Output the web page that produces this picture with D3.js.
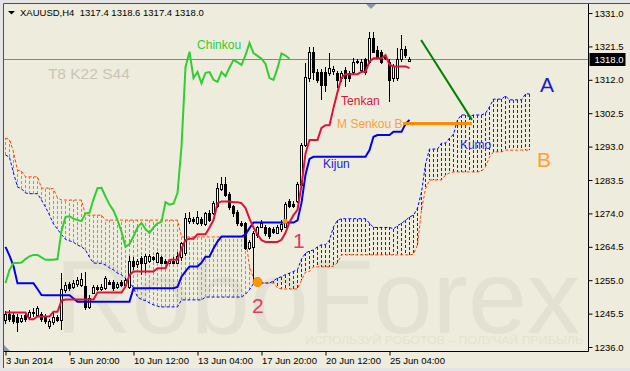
<!DOCTYPE html>
<html>
<head>
<meta charset="utf-8">
<script src="https://cdn.jsdelivr.net/npm/d3@7"></script>
<style>
  body { margin: 0; background: #eeecdc; }
  svg { display: block; font-family: 'Liberation Sans', Arial, sans-serif; }
</style>
</head>
<body>
<div id="chart"></div>
<script>
// ---- data ----
var tickBars = [0, 16, 32, 48, 64, 80, 96];
var tickLabels = ['3 Jun 2014', '5 Jun 20:00', '10 Jun 12:00', '13 Jun 04:00', '17 Jun 20:00', '20 Jun 12:00', '25 Jun 04:00'];
var priceTicks = [1236.0, 1245.5, 1255.0, 1264.5, 1274.0, 1283.5, 1293.0, 1302.5, 1312.0, 1321.5, 1331.0];
var lastPrice = 1318.0;

var open = [
  1243.8,1245.5,1245,1244.5,1243.5,1245,1244.5,1246,1245,1245.5,
  1244.5,1242,1243,1244.5,1243.6,1252.2,1253.8,1253,1253.8,1253.5,
  1253.3,1247.5,1251.5,1253,1252.5,1252.8,1254.5,1254.4,1253,1254.5,
  1253.5,1253,1260.5,1259.6,1261.2,1260,1260.4,1261.5,1260.3,1261.5,
  1260.5,1260,1260.5,1260,1261.5,1262.7,1271.8,1272.5,1271.2,1272.5,
  1271,1274,1274,1276,1281,1282.3,1279.6,1276,1274.5,1271.3,
  1271.2,1264.1,1264.5,1267.8,1270.2,1270.2,1269.8,1269.5,1268.5,1269.5,
  1270.2,1277.5,1276.8,1277.5,1282,1293.5,1312.4,1320,1314.3,1314.3,
  1314.3,1313.8,1314.5,1313.8,1312.4,1314.8,1313.8,1314.3,1317,1314.8,
  1317.8,1317.2,1323.8,1320.5,1320,1318.5,1317.2,1312.4,1312.4,1317.8,
  1320.9,1317.4];
var high = [
  1246.2,1246.5,1246,1245.5,1245,1245.8,1246.5,1247,1247.8,1246,
  1245.3,1244,1245.6,1245,1257,1254.5,1254.5,1255,1256,1257,
  1257.2,1250.8,1253.5,1253.6,1253.8,1256.3,1255,1255,1254.6,1255,
  1255.5,1262,1261.5,1261,1262,1262.5,1262.5,1262,1263,1262,
  1261,1261,1261.5,1263,1266,1274,1274.5,1273,1274.8,1273,
  1274.5,1275,1277.5,1282.6,1284.4,1284.4,1280,1276.5,1275,1271.8,
  1271.5,1266.5,1269,1270.5,1272,1270.8,1270.2,1270,1270.8,1272,
  1277.2,1278,1277.5,1283,1294,1316.7,1321.4,1321.4,1315,1315,
  1315.5,1319.5,1315.8,1314.5,1314.5,1315.5,1314.5,1318.1,1318,1317.8,
  1318.3,1325.7,1325.7,1321.5,1320.5,1319,1318,1316.5,1321,1324.7,
  1321.5,1318.6];
var low = [
  1242.5,1243,1242.5,1240.3,1242.8,1243,1244,1244.5,1244.5,1243.2,
  1242.5,1241,1242.3,1243,1240.8,1251.5,1252,1252.5,1253.2,1253,
  1246.5,1246.8,1251,1251.8,1252,1252.3,1253.5,1251.8,1252.4,1253,
  1252.8,1252.5,1258,1258.5,1256.5,1257,1259.8,1260.5,1259.8,1259.5,
  1259.5,1259.5,1259.6,1259.5,1260.5,1262,1271,1271,1270.8,1270.5,
  1270.5,1271.5,1273.5,1275.5,1280.5,1278.8,1275,1273,1270.5,1270,
  1263.5,1263.5,1254.6,1267,1269.8,1267.5,1266.8,1268.2,1268,1268.8,
  1269.8,1275.5,1275.5,1277,1281.5,1292.8,1311.5,1311.9,1311,1306.3,
  1308.6,1313,1313.5,1309.6,1311.5,1310,1311.5,1313.5,1316.5,1314,
  1313.5,1316.5,1319.5,1317.8,1316.5,1317.5,1305.8,1311.5,1311.8,1317,
  1318.3,1317.4];
var close = [
  1245.5,1244,1243.5,1243.2,1244.2,1244,1246,1245.6,1247,1244,
  1243.5,1243.5,1244.5,1243.8,1252.5,1253.6,1252.8,1254.3,1255,1255.2,
  1247.5,1250,1253,1252.5,1253,1255.6,1254,1252.8,1254,1253.6,
  1255,1260.5,1259,1260.5,1259.8,1261.8,1262,1261,1262.6,1260,
  1260,1260.5,1260,1262,1265.5,1272.6,1272.6,1271.8,1273,1271.3,
  1274,1272,1276.9,1281.1,1282.3,1279.2,1275.9,1274,1271.2,1270.8,
  1264.1,1265.9,1268.3,1270,1271.2,1268.3,1267.5,1268.8,1270.2,1271,
  1276.6,1276.2,1276,1282.3,1293.5,1312.9,1320,1314.3,1311.9,1310.5,
  1310.5,1315.3,1315,1311.9,1313.8,1312.4,1312.4,1317.2,1317.4,1317.2,
  1314.3,1323.8,1320,1318.5,1317.2,1318.1,1311.9,1315.8,1317.8,1320.9,
  1319,1318.0];

var tenkan = [
  1245.8,1245.8,1245.8,1245.8,1245.8,1245.8,1243.9,1243.9,1244.7,1244.7,
  1244.7,1244.7,1246,1246,1249.2,1249.5,1249.5,1249.5,1249.5,1249.5,
  1249.5,1249.5,1249.5,1251.5,1251.5,1251.5,1251.5,1251.5,1251.5,1251.5,
  1253.2,1256.5,1257.5,1257.5,1257.5,1257.5,1257.5,1257.5,1258.4,1258.4,
  1258.4,1260.8,1260.8,1260.8,1264,1266.4,1266.8,1266.8,1268.1,1268.1,
  1268.1,1270,1272.1,1276.9,1277.4,1277.4,1277.4,1277.2,1277.2,1276.9,
  1275.5,1272.5,1270,1268,1266.4,1265.9,1265.9,1265.9,1265.9,1266.5,
  1268.5,1271.5,1273.5,1275,1282,1291,1294.9,1294.9,1294.9,1298.3,
  1299.1,1299.1,1304,1308.5,1312.5,1313.6,1313.6,1313.6,1313.6,1314.3,
  1314.3,1317.2,1318.1,1318.1,1318.1,1319,1316.3,1315.8,1315.8,1315.8,
  1315.8,1315.3];
var kijun = [
  1264.5,1262,1259,1254.1,1254.1,1254.1,1254.1,1254.1,1252.5,1250.8,
  1250.7,1250.7,1250.7,1250.7,1250.7,1250.7,1250.7,1249.8,1248.9,1248.9,
  1248.9,1248.9,1248.9,1248.9,1248.9,1248.9,1248.9,1248.9,1248.9,1248.9,
  1248.9,1248.9,1252.7,1252.7,1252.7,1252.7,1252.7,1252.7,1252.7,1252.7,
  1252.7,1252.7,1252.7,1253.1,1256,1257.5,1258.9,1258.9,1258.9,1260,
  1261.7,1261.7,1264,1266,1267.4,1267.4,1267.4,1267.4,1267.4,1267.4,
  1268,1269.8,1271.4,1271.4,1271.4,1271.4,1271.4,1271.4,1271.4,1271.4,
  1271.4,1271.4,1271.4,1272,1277,1285,1289.5,1290.1,1290.1,1290.1,
  1290.1,1290.1,1290.1,1290.1,1290.1,1290.1,1290.1,1290.1,1290.1,1290.1,
  1290.1,1292,1295.8,1296.3,1296.3,1296.3,1296.3,1297.2,1297.2,1297.2,
  1299.5,1300.6];
var chinkou = [
  1254.2,1257.9,1259.9,1259.9,1260,1261,1261.8,1262.2,1262.2,1261.5,
  1260.8,1260.8,1260.8,1261,1269,1273,1273.2,1272.5,1272.1,1271.8,
  1274,1274.2,1278,1281.2,1281.3,1278.8,1276.5,1274.8,1272.1,1268.8,
  1264.5,1265.3,1267.5,1270,1271.3,1269.5,1268.4,1270,1271.2,1271.6,
  1277.2,1276.5,1276.8,1279.8,1293,1315.6,1320,1312.5,1314.2,1311,
  1314,1314.2,1312,1311.4,1314.2,1313,1315.5,1317.6,1317,1316.2,
  1319,1322.5,1319.6,1318.8,1318,1316.5,1312.5,1312,1315.3,1319.5,
  1318.9,1318];
var senkouA = [
  1290.6,1290,1285.5,1281.5,1281,1279.8,1279.6,1279.6,1279.6,1277.8,
  1275.8,1273.5,1271,1269.5,1268,1266.6,1266.2,1265.8,1265,1264.5,
  1263.6,1261.5,1259.9,1259.8,1259.8,1259.3,1258.5,1257.9,1257,1256.5,
  1255.5,1254.5,1252.8,1250.2,1249.5,1249.2,1248.5,1248,1247.6,1247.4,
  1247.4,1247.4,1247.4,1247.4,1249.4,1249.4,1249.4,1249.4,1249.4,1249.4,
  1250.2,1250.2,1250.2,1250.2,1250.2,1250.2,1250.2,1250.2,1250.2,1250.2,
  1251,1252.3,1254,1254.4,1254.2,1254.2,1254.2,1254.8,1255.6,1256,
  1256.6,1257,1257.5,1258,1261,1262.7,1263.3,1263.6,1264.5,1265.1,
  1265.1,1266.4,1270.2,1272,1272.5,1272.5,1272.5,1272.5,1272.5,1272.5,
  1272.5,1271.2,1270,1270,1270,1270,1270,1269.6,1270.5,1271.2,
  1272,1273,1273.5,1275.5,1280,1288,1292.3,1292.3,1292.3,1294,
  1294,1295.4,1296.5,1300.6,1302,1302,1301.5,1302,1302,1302,
  1302.5,1304.3,1306.5,1306.5,1306.5,1307.4,1306.3,1306.3,1306.3,1306.3,
  1308,1308];
var senkouB = [
  1295.4,1295,1291.5,1286.3,1286,1284.4,1284.4,1284.4,1284.4,1281.2,
  1281.2,1281.2,1281,1278.4,1277.8,1277.8,1277.8,1277.8,1277.8,1277.8,
  1273.5,1273.5,1273.5,1273.5,1273.5,1272.1,1272.1,1272.1,1272.1,1272.1,
  1272.1,1272.1,1272.1,1272.1,1272.1,1272.1,1272.1,1272.1,1272.1,1272.1,
  1272.1,1272.1,1272.1,1272.1,1267.3,1267.3,1267.3,1267.3,1267.3,1267.3,
  1267.3,1267.3,1267.3,1267.3,1267.3,1267.3,1267.3,1267.3,1267.3,1267.3,
  1267,1259,1255.5,1254.4,1254.2,1254.2,1254.2,1254.2,1252.8,1252.5,
  1252.5,1252.5,1252.5,1252.5,1255,1257.3,1257.5,1258.8,1258.8,1258.8,
  1258.8,1258.8,1259,1260,1262.2,1262.2,1262.2,1262.2,1262.2,1262.2,
  1262.2,1262.2,1262.2,1262.2,1262.2,1262.2,1262.2,1262.2,1262.2,1262.2,
  1262.2,1262.2,1262.4,1265,1275,1281,1283.5,1283.5,1283.5,1283.5,
  1284.9,1285.5,1285.8,1285.8,1285.8,1285.8,1285.8,1285.8,1285.8,1286,
  1287.2,1290,1291.5,1291.5,1291.5,1292,1292,1292,1292,1292,
  1292,1292];

// text notes placed in chart coordinates: [bar, price, text, colour, size]
var notes = [
  [10.6, 1312.2, 'T8 K22 S44', '#cbc4b6', 15.5],
  [47.9, 1320.8, 'Chinkou', '#33cc33', 12],
  [83.9, 1304.8, 'Tenkan', '#dc143c', 12],
  [82.9, 1298.3, 'M Senkou B', '#ff9f3a', 12],
  [79.4, 1286.9, 'Kijun', '#2222dd', 12],
  [113.6, 1292.3, 'Kumo', '#3333dd', 12],
  [133.6, 1308.5, 'A', '#1a1acc', 21],
  [132.9, 1287.2, 'B', '#ffa030', 21],
  [71.9, 1264.2, '1', '#e03a64', 21],
  [61.6, 1245.7, '2', '#e03a64', 21]
];

// ---- layout ----
var W = 630, H = 371;
var bg = '#eeecdc';
var plot = { left: 4, top: 4, right: 588.5, bottom: 351.5 };

var x = d3.scaleLinear().domain([0, 145]).range([5.5, 5.5 + 4 * 145]);
var y = d3.scaleLinear().domain([1236, 1331]).range([347, 13]);

var svg = d3.select('#chart').append('svg')
  .attr('width', W).attr('height', H);

svg.append('rect').attr('width', W).attr('height', H).attr('fill', '#e4e4e4');
svg.append('rect').attr('x', 4).attr('y', 4).attr('width', W - 4).attr('height', 364).attr('fill', bg);
svg.append('line').attr('x1', 3.5).attr('y1', 3.5).attr('x2', W).attr('y2', 3.5).attr('stroke', '#505050');
svg.append('line').attr('x1', 3.5).attr('y1', 3.5).attr('x2', 3.5).attr('y2', 368).attr('stroke', '#505050');

// watermark
svg.append('text')
  .attr('x', 55).attr('y', 333)
  .attr('textLength', 525).attr('lengthAdjust', 'spacingAndGlyphs')
  .style('font-size', '104px').attr('fill', '#e3e1d1')
  .text('RoboForex');
svg.append('text')
  .attr('x', 305).attr('y', 344)
  .attr('textLength', 278).attr('lengthAdjust', 'spacingAndGlyphs')
  .style('font-size', '10px').attr('fill', '#e4e2d2')
  .text('ИСПОЛЬЗУЙ РОБОТОВ – ПОЛУЧАЙ ПРИБЫЛЬ');

svg.append('clipPath').attr('id', 'clip')
  .append('rect').attr('x', plot.left).attr('y', plot.top)
  .attr('width', plot.right - plot.left).attr('height', plot.bottom - plot.top);

var g = svg.append('g').attr('clip-path', 'url(#clip)');

// bid line
g.append('line')
  .attr('x1', plot.left).attr('x2', plot.right)
  .attr('y1', Math.round(y(lastPrice)) + 0.5).attr('y2', Math.round(y(lastPrice)) + 0.5)
  .attr('stroke', '#778899');

// kumo hatching, one dotted stroke per bar
g.selectAll('.hatch')
  .data(senkouA)
  .enter().append('line')
  .attr('class', 'hatch')
  .attr('x1', function(d, i) { return x(i); })
  .attr('x2', function(d, i) { return x(i); })
  .attr('y1', function(d) { return y(d); })
  .attr('y2', function(d, i) { return y(senkouB[i]); })
  .attr('stroke', function(d, i) { return d >= senkouB[i] ? '#1a1aee' : '#f47650'; })
  .attr('stroke-dasharray', '3,2')
  .attr('shape-rendering', 'crispEdges');

var line = d3.line()
  .x(function(d, i) { return x(i); })
  .y(function(d) { return y(d); });

g.append('path').datum(senkouB)
  .attr('d', line).attr('fill', 'none')
  .attr('stroke', '#ff4500').attr('stroke-dasharray', '3,2');
g.append('path').datum(senkouA)
  .attr('d', line).attr('fill', 'none')
  .attr('stroke', '#0000ff').attr('stroke-dasharray', '3,2');

// candles
var candles = g.selectAll('.candle')
  .data(close)
  .enter().append('g')
  .attr('class', 'candle');

candles.append('line')
  .attr('x1', function(d, i) { return x(i); })
  .attr('x2', function(d, i) { return x(i); })
  .attr('y1', function(d, i) { return Math.round(y(high[i])); })
  .attr('y2', function(d, i) { return Math.round(y(low[i])); })
  .attr('stroke', '#000')
  .attr('shape-rendering', 'crispEdges');

candles.append('rect')
  .attr('x', function(d, i) { return x(i) - 1; })
  .attr('width', 2)
  .attr('y', function(d, i) { return Math.round(y(Math.max(open[i], d))) + 0.5; })
  .attr('height', function(d, i) {
    return Math.max(0, Math.round(y(Math.min(open[i], d))) - Math.round(y(Math.max(open[i], d))));
  })
  .attr('fill', function(d, i) { return d >= open[i] ? '#fff' : '#000'; })
  .attr('stroke', '#000');

// ichimoku lines
g.append('path').datum(kijun)
  .attr('d', line).attr('fill', 'none')
  .attr('stroke', '#0000ee').attr('stroke-width', 2);
g.append('path').datum(tenkan)
  .attr('d', line).attr('fill', 'none')
  .attr('stroke', '#dc143c').attr('stroke-width', 2);
g.append('path').datum(chinkou)
  .attr('d', line).attr('fill', 'none')
  .attr('stroke', '#32cd32').attr('stroke-width', 2);

// annotations
g.selectAll('.note')
  .data(notes)
  .enter().append('text')
  .attr('class', 'note')
  .attr('x', function(d) { return x(d[0]); })
  .attr('y', function(d) { return y(d[1]); })
  .attr('fill', function(d) { return d[3]; })
  .style('font-size', function(d) { return d[4] + 'px'; })
  .text(function(d) { return d[2]; });

g.append('line')
  .attr('x1', x(99.4)).attr('x2', x(116.6))
  .attr('y1', y(1299.6)).attr('y2', y(1299.6))
  .attr('stroke', '#ff8c00').attr('stroke-width', 3);
g.append('line')
  .attr('x1', x(103.9)).attr('y1', y(1323.3))
  .attr('x2', x(116.6)).attr('y2', y(1300.6))
  .attr('stroke', '#008000').attr('stroke-width', 2);
g.append('circle')
  .attr('cx', x(63)).attr('cy', y(1254.5)).attr('r', 4.5)
  .attr('fill', '#ff9900').attr('stroke', '#f08000');
g.append('circle')
  .attr('cx', x(69.9)).attr('cy', y(1271.8)).attr('r', 2.5)
  .attr('fill', '#ff9900');

// axes
var yAxis = d3.axisRight(y)
  .tickValues(priceTicks)
  .tickSize(4)
  .tickFormat(d3.format('.1f'));
var ya = svg.append('g')
  .attr('transform', 'translate(' + plot.right + ',0)')
  .call(yAxis);
ya.select('.domain').remove();
ya.selectAll('text').attr('x', 6).style('font-size', '9.5px')
  .style('font-family', "'Liberation Sans', Arial, sans-serif").attr('fill', '#000');

var xAxis = d3.axisBottom(x)
  .tickValues(tickBars)
  .tickSize(4)
  .tickFormat(function(d, i) { return tickLabels[i]; });
var xa = svg.append('g')
  .attr('transform', 'translate(0,' + plot.bottom + ')')
  .call(xAxis);
xa.select('.domain').remove();
xa.selectAll('text')
  .attr('text-anchor', 'start').attr('x', 0).attr('y', 12).attr('dy', 0)
  .style('font-size', '9.5px')
  .style('font-family', "'Liberation Sans', Arial, sans-serif").attr('fill', '#000');

svg.append('line')
  .attr('x1', plot.right).attr('x2', plot.right)
  .attr('y1', plot.top).attr('y2', plot.bottom)
  .attr('stroke', '#000');
svg.append('line')
  .attr('x1', plot.left).attr('x2', plot.right)
  .attr('y1', plot.bottom).attr('y2', plot.bottom)
  .attr('stroke', '#000');

// last price tag
var py = Math.round(y(lastPrice));
svg.append('rect')
  .attr('x', plot.right + 1).attr('y', py - 6)
  .attr('width', 36).attr('height', 13)
  .attr('fill', '#000');
svg.append('text')
  .attr('x', plot.right + 6).attr('y', py + 4)
  .attr('fill', '#fff').style('font-size', '9.5px')
  .text(d3.format('.1f')(lastPrice));

// header
svg.append('path')
  .attr('d', 'M8,11 L15,11 L11.5,14.5 Z').attr('fill', '#000');
svg.append('text')
  .attr('x', 20).attr('y', 16)
  .style('font-size', '9.5px').style('white-space', 'pre')
  .attr('fill', '#000')
  .text('XAUUSD,H4  ' + [open[101], high[101], low[101], close[101]].map(d3.format('.1f')).join(' '));

// small chart markers
svg.append('path').attr('d', 'M366,4 L376,4 L371,9 Z').attr('fill', '#8a98a8');
svg.append('path').attr('d', 'M4,345 L4,351 L10,351 Z').attr('fill', '#8a98a8');
</script>
</body>
</html>
